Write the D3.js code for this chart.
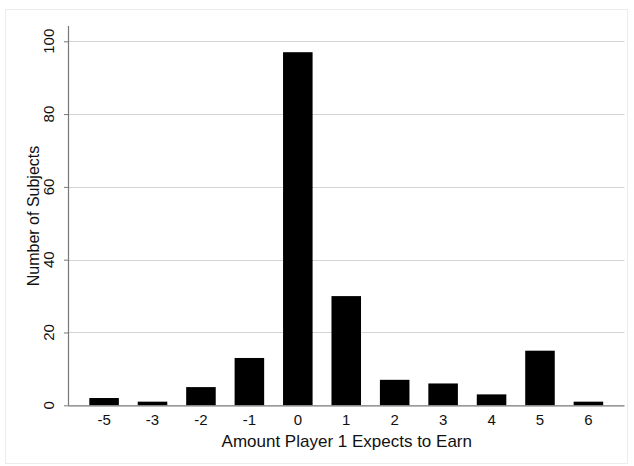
<!DOCTYPE html>
<html>
<head>
<meta charset="utf-8">
<script src="https://cdn.jsdelivr.net/npm/d3@7/dist/d3.min.js"></script>
<style>
  html, body { margin: 0; padding: 0; background: #fff; }
  svg { display: block; font-family: "Liberation Sans", Arial, Helvetica, sans-serif; }
</style>
</head>
<body>
<svg id="chart" width="634" height="466"></svg>
<script>
// Distribution of expected earnings for Player 1
const categories = ["-5", "-3", "-2", "-1", "0", "1", "2", "3", "4", "5", "6"];
const counts = [2, 1, 5, 13, 97, 30, 7, 6, 3, 15, 1];
const yTicks = [0, 20, 40, 60, 80, 100];
const xTitle = "Amount Player 1 Expects to Earn";
const yTitle = "Number of Subjects";

const svg = d3.select("#chart");

// outer graph frame
svg.append("rect")
  .attr("x", 5.5).attr("y", 9.5)
  .attr("width", 622).attr("height", 454)
  .attr("fill", "#fff").attr("stroke", "#ececec").attr("stroke-width", 1);

const plot = { left: 68, right: 624.5, top: 26, bottom: 405.3 };

const x = d3.scaleBand()
  .domain(categories)
  .range([plot.left, plot.right])
  .paddingInner(0.39)
  .paddingOuter(0.44);

const y = d3.scaleLinear()
  .domain([0, 104.2])
  .range([plot.bottom, plot.top]);

// small y ticks
const yAxis = d3.axisLeft(y)
  .tickValues(yTicks)
  .tickSize(4)
  .tickPadding(0)
  .tickFormat(d3.format("d"));

const gy = svg.append("g")
  .attr("transform", `translate(${plot.left},0)`)
  .call(yAxis);
gy.select(".domain").remove();
gy.selectAll(".tick line").attr("stroke", "#777");
gy.selectAll(".tick text").remove();

// horizontal gridlines
svg.append("g").selectAll("line")
  .data(yTicks.filter(d => d > 0))
  .join("line")
  .attr("x1", plot.left).attr("x2", plot.right)
  .attr("y1", d => Math.round(y(d)) + 0.5)
  .attr("y2", d => Math.round(y(d)) + 0.5)
  .attr("stroke", "#d4d4d4").attr("stroke-width", 1);

// rotated y tick labels
svg.append("g").selectAll("text")
  .data(yTicks)
  .join("text")
  .attr("transform", d => `translate(54,${y(d)}) rotate(-90)`)
  .attr("text-anchor", "middle")
  .attr("font-size", 15)
  .attr("fill", "#111")
  .text(d => d);

// bars
svg.append("g").selectAll("rect")
  .data(categories)
  .join("rect")
  .attr("x", d => x(d))
  .attr("width", x.bandwidth())
  .attr("y", (d, i) => y(counts[i]))
  .attr("height", (d, i) => y(0) - y(counts[i]))
  .attr("fill", "#000");

// y axis line
svg.append("line")
  .attr("x1", plot.left + 0.5).attr("x2", plot.left + 0.5)
  .attr("y1", plot.top).attr("y2", plot.bottom)
  .attr("stroke", "#777").attr("stroke-width", 1.2);

// x axis line + category labels
const xAxis = d3.axisBottom(x).tickSize(0).tickPadding(0);
const gx = svg.append("g")
  .attr("transform", `translate(0,${plot.bottom})`)
  .call(xAxis);
gx.attr("font-family", null).attr("font-size", null);
gx.select(".domain")
  .attr("d", `M${plot.left},0.5H${plot.right}`)
  .attr("stroke", "#777").attr("stroke-width", 1.2);
gx.selectAll(".tick text")
  .attr("dy", null)
  .attr("y", 20)
  .attr("font-size", 15)
  .attr("fill", "#111");

// axis titles
svg.append("text")
  .attr("x", (plot.left + plot.right) / 2 + 0.5)
  .attr("y", 447)
  .attr("text-anchor", "middle")
  .attr("font-size", 17)
  .attr("fill", "#111")
  .text(xTitle);

svg.append("text")
  .attr("transform", `translate(39,${y(52)}) rotate(-90)`)
  .attr("text-anchor", "middle")
  .attr("font-size", 16)
  .attr("fill", "#111")
  .text(yTitle);
</script>
</body>
</html>
